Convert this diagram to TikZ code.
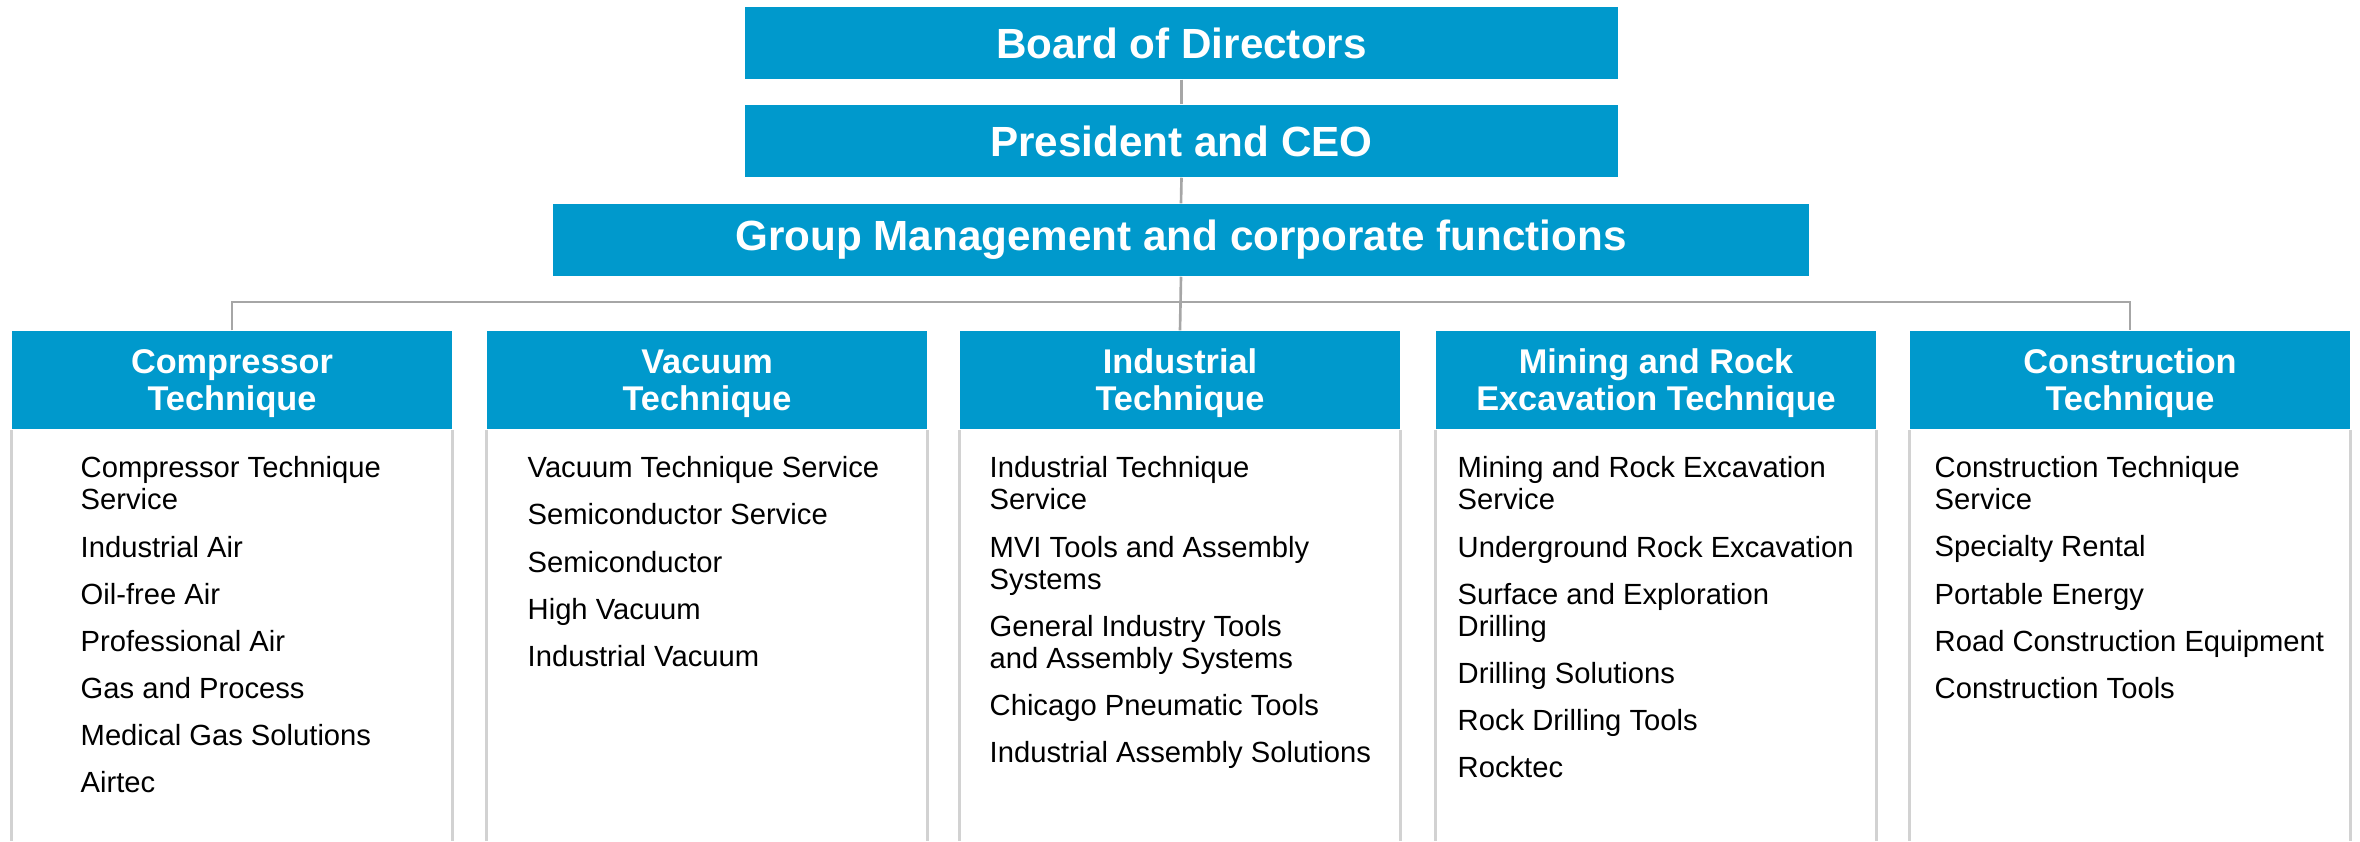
\documentclass[tikz,border=0pt]{standalone}
\usepackage{fontspec}
\setmainfont{Liberation Sans}
\usepackage{tikz}

\definecolor{acblue}{RGB}{0,153,204}
\definecolor{linkgray}{RGB}{166,166,166}
\definecolor{rulegray}{RGB}{210,210,210}

% a bit of headroom on the first header line
\newcommand{\hdstrut}{\rule{0pt}{0.9em}}

\begin{document}
\begin{tikzpicture}[x=0.01cm, y=-0.01cm, % work in pixel units, y going down
    topbox/.style={rectangle, fill=acblue, text=white, inner sep=0pt, minimum height=0.72cm, font=\fontsize{12}{14}\selectfont\bfseries},
    headbox/.style={rectangle, fill=acblue, text=white, inner sep=0pt, minimum width=4.4cm, minimum height=0.98cm, align=center, font=\fontsize{9.75}{10.7}\selectfont\bfseries},
    items/.style={anchor=north west, inner sep=0pt, align=left, font=\fontsize{8.3}{9.1}\selectfont},
    link/.style={draw=linkgray, line width=0.75pt},
    side/.style={draw=rulegray, line width=0.85pt}]

    \useasboundingbox (0,0) rectangle (2360,841);

    % Top of the chart
    \node[topbox, minimum width=8.73cm] (board) at (1181.5,43) {Board of Directors};
    \node[topbox, minimum width=8.73cm] (ceo) at (1181.5,141) {President and CEO};
    \node[topbox, minimum width=12.56cm] (group) at (1181,240) {Group Management and corporate functions};

    % The five business areas
    \node[headbox] (comp) at (232,380) {\hdstrut Compressor\\Technique};
    \node[headbox] (vac) at (707,380) {\hdstrut Vacuum\\Technique};
    \node[headbox] (ind) at (1180,380) {\hdstrut Industrial\\Technique};
    \node[headbox] (mining) at (1656,380) {\hdstrut Mining and Rock\\Excavation Technique};
    \node[headbox] (constr) at (2130,380) {\hdstrut Construction\\Technique};

    % Connectors
    \coordinate (bus) at (1181,302);
    \draw[link] (board.south) -- (ceo.north);
    \draw[link] (ceo.south) -- (group.north);
    \draw[link] (group.south) -- (ind.north);
    \draw[link] (comp.north) |- (bus) -| (constr.north);

    % Side rules under each header
    \foreach \area in {comp, vac, ind, mining, constr} {
        \draw[side] (\area.south west) -- (\area.south west |- 0,841);
        \draw[side] (\area.south east) -- (\area.south east |- 0,841);
    }

    % Divisions
    \node[items] (compList) at (80,456) {Compressor Technique\\Service\\[4.3pt]Industrial Air\\[4.3pt]Oil-free Air\\[4.3pt]Professional Air\\[4.3pt]Gas and Process\\[4.3pt]Medical Gas Solutions\\[4.3pt]Airtec};
    \node[items] (vacList) at (527,456) {Vacuum Technique Service\\[4.3pt]Semiconductor Service\\[4.3pt]Semiconductor\\[4.3pt]High Vacuum\\[4.3pt]Industrial Vacuum};
    \node[items] (indList) at (989,456) {Industrial Technique\\Service\\[4.3pt]MVI Tools and Assembly\\Systems\\[4.3pt]General Industry Tools\\and Assembly Systems\\[4.3pt]Chicago Pneumatic Tools\\[4.3pt]Industrial Assembly Solutions};
    \node[items] (miningList) at (1457,456) {Mining and Rock Excavation\\Service\\[4.3pt]Underground Rock Excavation\\[4.3pt]Surface and Exploration\\Drilling\\[4.3pt]Drilling Solutions\\[4.3pt]Rock Drilling Tools\\[4.3pt]Rocktec};
    \node[items] (constrList) at (1934,456) {Construction Technique\\Service\\[4.3pt]Specialty Rental\\[4.3pt]Portable Energy\\[4.3pt]Road Construction Equipment\\[4.3pt]Construction Tools};
\end{tikzpicture}
\end{document}
